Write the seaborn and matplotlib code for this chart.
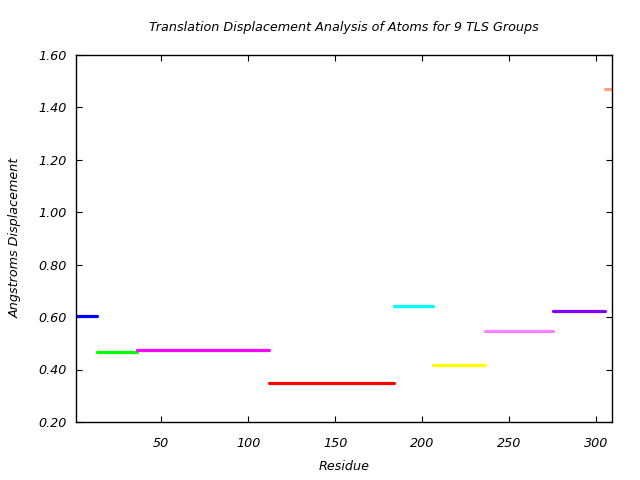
import matplotlib
matplotlib.use("Agg")
import matplotlib.pyplot as plt
import seaborn as sns
import pandas as pd

groups = ["G1", "G2", "G3", "G4", "G5", "G6", "G7", "G8", "G9"]
res_start = [1, 13, 36, 112, 184, 206, 236, 275, 305]
res_end = [13, 36, 112, 184, 206, 236, 275, 305, 309]
displacement = [0.603, 0.466, 0.473, 0.347, 0.641, 0.416, 0.546, 0.622, 1.469]
colors = ["#0000ff", "#00ff00", "#ff00ff", "#ff0000", "#00ffff",
          "#ffff00", "#ff80ff", "#8000ff", "#ffa080"]

rows = []
for g, s, e, d in zip(groups, res_start, res_end, displacement):
    rows.append({"group": g, "Residue": s, "disp": d})
    rows.append({"group": g, "Residue": e, "disp": d})
df = pd.DataFrame(rows)

sns.set_style("white")
plt.rcParams["font.family"] = ["DejaVu Sans"]
plt.rcParams["text.color"] = "black"
plt.rcParams["axes.labelcolor"] = "black"
plt.rcParams["xtick.color"] = "black"
plt.rcParams["ytick.color"] = "black"

fs = 9.2
fig = plt.figure(figsize=(6.4, 4.8), dpi=100)
ax = fig.add_axes([76 / 640, 1 - 422 / 480, (612 - 76) / 640, (422 - 54.5) / 480])
sns.lineplot(data=df, x="Residue", y="disp", hue="group", palette=colors,
             estimator=None, sort=False, legend=False, linewidth=2.3, ax=ax)

ax.set_xlim(1, 309)
ax.set_ylim(0.2, 1.6)
ax.set_xticks([50, 100, 150, 200, 250, 300])
yt = [0.2, 0.4, 0.6, 0.8, 1.0, 1.2, 1.4, 1.6]
ax.set_yticks(yt)
ax.set_yticklabels([f"{v:.2f}" for v in yt])
for lab in ax.get_xticklabels() + ax.get_yticklabels():
    lab.set_fontstyle("italic")
    lab.set_fontsize(fs)
ax.tick_params(axis="x", pad=11)
ax.tick_params(axis="y", pad=7)
ax.tick_params(direction="in", length=4, width=0.8, top=True, right=True,
               bottom=True, left=True, color="black")
for sp in ax.spines.values():
    sp.set_color("black")
    sp.set_linewidth(1.0)

ax.set_xlabel("Residue", fontstyle="italic", fontsize=fs, labelpad=7)
ax.set_ylabel("Angstroms Displacement", fontstyle="italic", fontsize=fs, labelpad=12)
ax.set_title("Translation Displacement Analysis of Atoms for 9 TLS Groups",
             fontstyle="italic", fontsize=fs, pad=17)

fig.savefig("out.png", dpi=100)
